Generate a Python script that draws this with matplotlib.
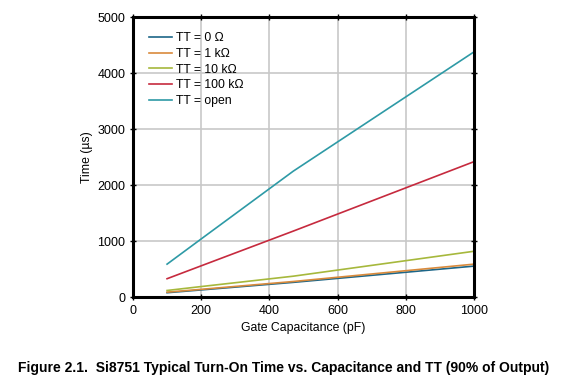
import matplotlib
matplotlib.use('Agg')
import matplotlib.pyplot as plt

plt.rcParams['font.family'] = ['Liberation Sans', 'DejaVu Sans']

# gate capacitance (pF)
cap = [100, 200, 470, 1000]

# turn-on time (us) for each TT setting
t_0 = [80, 130, 265, 555]
t_1k = [90, 140, 280, 590]
t_10k = [120, 190, 375, 820]
t_100k = [330, 560, 1180, 2420]
t_open = [590, 1040, 2250, 4380]

labels = ['TT = 0 \u03a9', 'TT = 1 k\u03a9', 'TT = 10 k\u03a9', 'TT = 100 k\u03a9', 'TT = open']
colors = ['#1d6688', '#d98a3c', '#a6b83c', '#c62a3e', '#2e9aa6']
series = [t_0, t_1k, t_10k, t_100k, t_open]

fig = plt.figure(figsize=(5.61, 3.89), dpi=100)
ax = fig.add_axes([0.237, 0.236, 0.608, 0.72])

for s, lab, c in zip(series, labels, colors):
    ax.plot(cap, s, color=c, lw=1.2, label=lab)

ax.set_xlim(0, 1000)
ax.set_ylim(0, 5000)
ax.set_xticks([0, 200, 400, 600, 800, 1000])
ax.set_yticks([0, 1000, 2000, 3000, 4000, 5000])
ax.grid(True, color='#c8c8c8', lw=1.2)
ax.set_axisbelow(True)
for sp in ax.spines.values():
    sp.set_linewidth(2.2)
ax.tick_params(direction='inout', length=5, width=1, labelsize=9,
               top=True, right=True, pad=3)
ax.set_xlabel('Gate Capacitance (pF)', fontsize=8.8, labelpad=4)
ax.set_ylabel('Time (\u00b5s)', fontsize=8.8, labelpad=3)

leg = ax.legend(loc='upper left', frameon=False, fontsize=8.8,
                handlelength=1.9, handletextpad=0.3, labelspacing=0.3,
                bbox_to_anchor=(0.015, 0.985))

fig.text(0.032, 0.054,
         'Figure 2.1.  Si8751 Typical Turn-On Time vs. Capacitance and TT (90% of Output)',
         fontsize=10, fontweight='bold', ha='left', va='center')

fig.savefig('out.png', dpi=100)
